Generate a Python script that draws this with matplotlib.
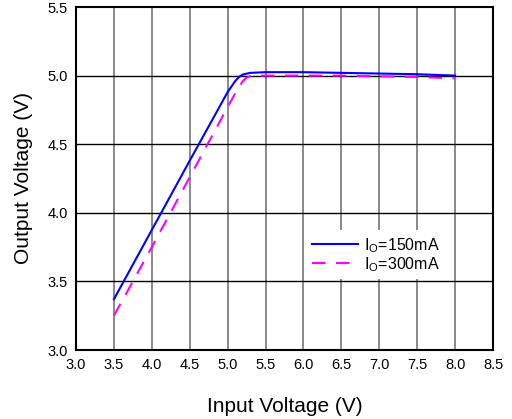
import numpy as np
import matplotlib
matplotlib.use("Agg")
import matplotlib.pyplot as plt

plt.rcParams['font.family'] = ['Liberation Sans', 'DejaVu Sans']

# Io = 150 mA
vin_150 = [3.5, 4.0, 4.5, 5.0, 5.1, 5.15, 5.2, 5.3, 5.5, 6.0, 6.5, 7.0, 7.5, 8.0]
vout_150 = [3.37, 3.875, 4.38, 4.88, 4.96, 4.99, 5.008, 5.02, 5.025, 5.025, 5.02, 5.015, 5.01, 5.0]
# Io = 300 mA
vin_300 = [3.5, 4.0, 4.5, 5.0, 5.1, 5.2, 5.25, 5.3, 5.5, 6.0, 6.5, 7.0, 7.5, 8.0]
vout_300 = [3.25, 3.75, 4.26, 4.77, 4.87, 4.96, 4.985, 4.997, 5.0, 5.0, 5.0, 4.995, 4.99, 4.98]

xticks = np.arange(3.0, 8.51, 0.5)
yticks = np.arange(3.0, 5.51, 0.5)

fig = plt.figure(figsize=(5.12, 4.19), dpi=100)
ax = fig.add_axes([76/512, 1-350/419, (493-76)/512, (350-7)/419])

for x in xticks[1:-1]:
    ax.axvline(x, color='#808080', lw=1.3, zorder=1)
for y in yticks[1:-1]:
    ax.axhline(y, color='black', lw=1.0, zorder=1)

ax.plot(vin_150, vout_150, color='#0000ff', lw=1.5, label='I$_\\mathregular{O}$=150mA', zorder=3)
ax.plot(vin_300, vout_300, color='#ff00ff', lw=1.5, ls=(0, (6.5, 5)), label='I$_\\mathregular{O}$=300mA', zorder=3)

ax.set_xlim(3.0, 8.5)
ax.set_ylim(3.0, 5.5)
ax.set_xticks(xticks)
ax.set_yticks(yticks)
ax.set_xticklabels([f"{v:.1f}" for v in xticks])
ax.set_yticklabels([f"{v:.1f}" for v in yticks])
ax.tick_params(length=0, labelsize=10.5, pad=6)
for s in ax.spines.values():
    s.set_linewidth(1.5)

ax.set_xlabel('Input Voltage (V)', fontsize=15, labelpad=18)
ax.set_ylabel('Output Voltage (V)', fontsize=15, labelpad=10)

leg = ax.legend(loc='upper left', bbox_to_anchor=(0.552, 0.349), borderaxespad=0,
                frameon=True, fontsize=11.5, handlelength=2.9, handletextpad=0.35,
                labelspacing=0.02, borderpad=0.35, framealpha=1)
leg.get_frame().set_edgecolor('white')
leg.get_frame().set_linewidth(0)
leg.set_zorder(4)

fig.savefig('out.png', dpi=100)
